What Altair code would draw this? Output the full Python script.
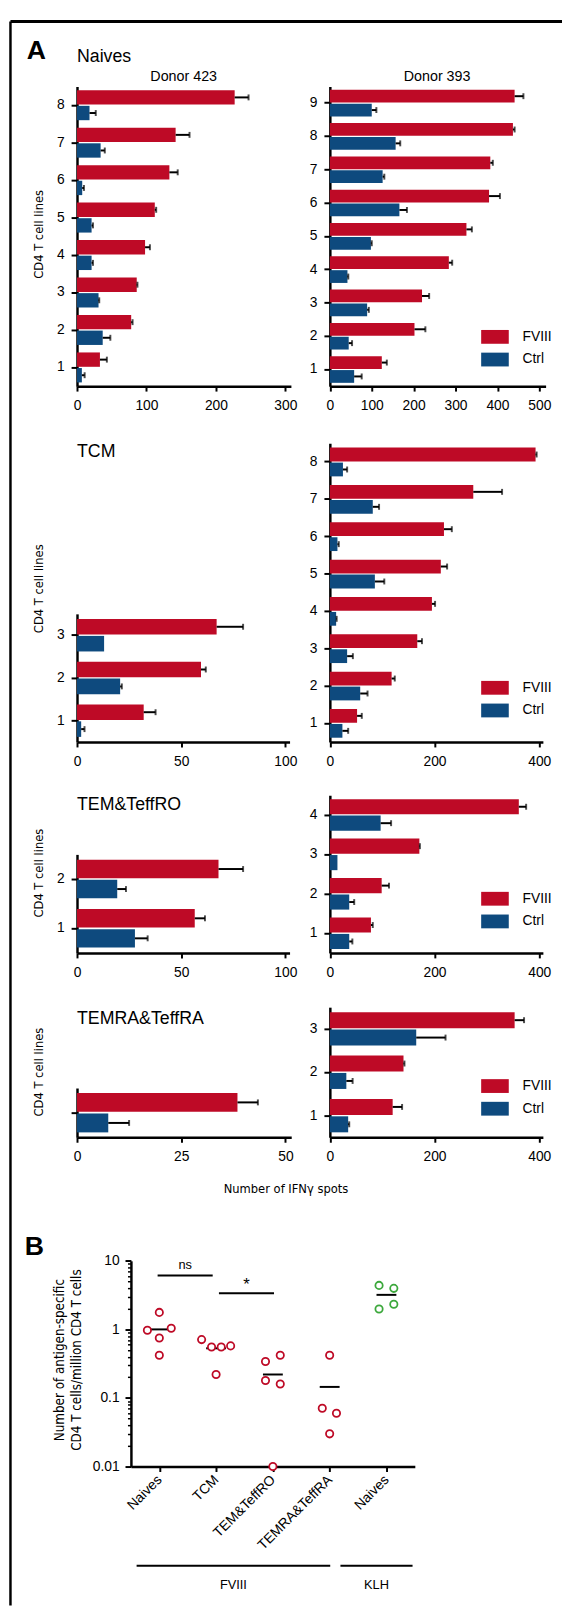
import altair as alt
import pandas as pd

W, H = 554, 1601
RED, BLUE, GREEN = "#BE0A26", "#0E4A7E", "#3CA83C"
FONT = "Liberation Sans"
NARROW = "DejaVu Sans Condensed, Roboto, sans-serif"
SERIES = ["FVIII", "Ctrl"]

# ---------------- Panel A data (number of IFN-gamma spots) ----------------
naive423_lines = ["1", "2", "3", "4", "5", "6", "7", "8"]
naive423_fviii = [33, 78, 86, 98, 112, 133, 142, 227]
naive423_fviii_err = [10, 2, 1, 7, 2, 12, 20, 20]
naive423_ctrl = [7, 37, 31, 21, 21, 7.5, 34, 18]
naive423_ctrl_err = [4, 11, 1, 2, 2, 2.5, 6, 9]

naive393_lines = ["1", "2", "3", "4", "5", "6", "7", "8", "9"]
naive393_fviii = [124, 202, 220, 284, 326, 380, 383, 437, 441]
naive393_fviii_err = [12, 26, 17, 8, 13, 26, 6, 4, 21]
naive393_ctrl = [58, 45, 89, 42, 98, 166, 126, 157, 100]
naive393_ctrl_err = [18, 8, 4, 2, 2, 18, 4, 11, 11]

tcm423_lines = ["1", "2", "3"]
tcm423_fviii = [32, 59.5, 67]
tcm423_fviii_err = [5.7, 2.3, 12.7]
tcm423_ctrl = [2, 20.7, 13]
tcm423_ctrl_err = [1.6, 0.8, 0]

tcm393_lines = ["1", "2", "3", "4", "5", "6", "7", "8"]
tcm393_fviii = [52, 118, 167, 195, 212, 218, 274, 393]
tcm393_fviii_err = [9, 6, 9, 6, 12, 15, 55, 2]
tcm393_ctrl = [24, 58, 33, 12, 86, 14.5, 82, 25]
tcm393_ctrl_err = [11, 14, 11, 1, 18, 2.5, 12, 8]

tem423_lines = ["1", "2"]
tem423_fviii = [56.5, 67.9]
tem423_fviii_err = [4.9, 11.8]
tem423_ctrl = [27.8, 19.3]
tem423_ctrl_err = [6.1, 4.2]

tem393_lines = ["1", "2", "3", "4"]
tem393_fviii = [78.5, 99, 171, 361]
tem393_fviii_err = [3.5, 14, 1, 14]
tem393_ctrl = [37, 37, 14.5, 97]
tem393_ctrl_err = [6, 9.5, 0, 20]

temra423_lines = ["1"]
temra423_fviii = [38.5]
temra423_fviii_err = [4.9]
temra423_ctrl = [7.5]
temra423_ctrl_err = [5]

temra393_lines = ["1", "2", "3"]
temra393_fviii = [120, 140.7, 353]
temra393_fviii_err = [18, 1.8, 18]
temra393_ctrl = [35, 31.5, 165]
temra393_ctrl_err = [2, 12, 56]

# ---------------- Panel B data ----------------
b_groups = ["Naives", "TCM", "TEM&TeffRO", "TEMRA&TeffRA", "Naives"]
b_stim = ["FVIII", "FVIII", "FVIII", "FVIII", "KLH"]
b_values = [
    [0.97, 1.77, 1.04, 0.75, 0.42],
    [0.71, 0.555, 0.555, 0.575, 0.22],
    [0.34, 0.42, 0.18, 0.16, 0.01],
    [0.42, 0.071, 0.06, 0.03],
    [4.38, 3.97, 1.98, 2.33],
]
b_jitter = [
    [-0.21, 0.0, 0.21, 0.0, 0.0],
    [-0.255, -0.08, 0.09, 0.256, 0.0],
    [-0.13, 0.13, -0.13, 0.13, 0.0],
    [0.0, -0.13, 0.12, 0.0],
    [-0.13, 0.13, -0.13, 0.13],
]
b_median = [1.0, 0.53, 0.22, 0.145, 3.19]
sig_labels = ["ns", "*"]
sig_x0 = [-0.03, 1.05]
sig_x1 = [0.94, 2.02]
sig_y = [6.1, 3.36]
grp_names = ["FVIII", "KLH"]
grp_x0 = [-0.4, 3.19]
grp_x1 = [3.01, 4.46]


def axis_x(values, ypos):
    return alt.Axis(orient="bottom", offset=ypos - H, values=values, title=None, grid=False,
                    domainColor="black", domainWidth=2.5, tickColor="black", tickWidth=2,
                    tickSize=5, labelFont=FONT, labelFontSize=14, labelColor="black",
                    labelPadding=8, labelFlush=False, labelOverlap=False)


def axis_y(xpos, labels=True):
    return alt.Axis(orient="left", offset=-xpos, title=None, grid=False, domainColor="black",
                    domainWidth=2.5, tickColor="black", tickWidth=2, tickSize=6,
                    labels=labels, labelFont=FONT, labelFontSize=14, labelColor="black",
                    labelPadding=7, labelAngle=0)


def legend_at(lx, ly):
    return alt.Legend(orient="none", legendX=lx, legendY=ly, title=None,
                      symbolType="M-2,-1H2V1H-2Z", symbolSize=196, symbolStrokeWidth=0,
                      symbolOffset=7, labelOffset=21, labelFont=FONT, labelFontSize=14,
                      labelColor="black", rowPadding=9, padding=0, symbolOpacity=1)


def bar_panel(lines, fv, fv_err, ct, ct_err, xmax, xrange, xticks, yrange, ax_y, ax_x,
              pad, legend=None, ylabels=True):
    rows = []
    for i, ln in enumerate(lines):
        rows.append(dict(line=ln, series="FVIII", val=fv[i], err=fv_err[i]))
        rows.append(dict(line=ln, series="Ctrl", val=ct[i], err=ct_err[i]))
    df = pd.DataFrame(rows)
    df["hi"] = df["val"] + df["err"]
    xs = alt.Scale(domain=[0, xmax], range=xrange, nice=False, zero=True)
    ys = alt.Scale(domain=lines, range=yrange, paddingInner=pad, paddingOuter=pad / 2)
    xa = axis_x(xticks, ax_x)
    y = alt.Y("line:N", scale=ys, axis=axis_y(ax_y, ylabels))
    yo = alt.YOffset("series:N", scale=alt.Scale(domain=SERIES, paddingInner=0.08))
    color = alt.Color("series:N", scale=alt.Scale(domain=SERIES, range=[RED, BLUE]),
                      legend=legend)
    base = alt.Chart(df)
    bars = base.mark_bar().encode(x=alt.X("val:Q", scale=xs, axis=xa), y=y, yOffset=yo,
                                  color=color)
    errs = base.transform_filter("datum.err > 0")
    rules = errs.mark_rule(color="black", strokeWidth=2).encode(
        x=alt.X("val:Q", scale=xs, axis=xa), x2="hi:Q", y=y, yOffset=yo)
    caps = errs.mark_tick(color="black", thickness=2, size=6).encode(
        x=alt.X("hi:Q", scale=xs, axis=xa), y=y, yOffset=yo)
    return alt.layer(bars, rules, caps)


one = pd.DataFrame({"k": [0]})


def label(text, x, y, size=14, font=FONT, weight="normal", align="left", angle=0,
          baseline="alphabetic", line_height=None):
    kw = dict(fontSize=size, font=font, fontWeight=weight, align=align, baseline=baseline,
              color="black")
    if angle:
        kw["angle"] = angle
    if line_height:
        kw["lineHeight"] = line_height
    return alt.Chart(pd.DataFrame({"t": [text]})).mark_text(**kw).encode(
        x=alt.value(x), y=alt.value(y), text="t")


L_X, R_X = 70, 326.5
p1 = bar_panel(naive423_lines, naive423_fviii, naive423_fviii_err, naive423_ctrl,
               naive423_ctrl_err, 308, [L_X, 287], [0, 100, 200, 300], [372, 68], L_X, 372, 0.2)
p2 = bar_panel(naive393_lines, naive393_fviii, naive393_fviii_err, naive393_ctrl,
               naive393_ctrl_err, 515, [R_X, R_X + 515 * 0.425], [0, 100, 200, 300, 400, 500],
               [372, 68], R_X, 372, 0.2, legend=legend_at(480, 315))
p3 = bar_panel(tcm423_lines, tcm423_fviii, tcm423_fviii_err, tcm423_ctrl, tcm423_ctrl_err,
               102, [L_X, L_X + 102 * 2.114], [0, 50, 100], [733, 603], L_X, 733, 0.24)
p4 = bar_panel(tcm393_lines, tcm393_fviii, tcm393_fviii_err, tcm393_ctrl, tcm393_ctrl_err,
               407, [R_X, R_X + 407 * 0.531], [0, 200, 400], [733, 430], R_X, 733, 0.23,
               legend=legend_at(480, 671))
p5 = bar_panel(tem423_lines, tem423_fviii, tem423_fviii_err, tem423_ctrl, tem423_ctrl_err,
               102, [L_X, L_X + 102 * 2.114], [0, 50, 100], [947, 847], L_X, 947, 0.22)
p6 = bar_panel(tem393_lines, tem393_fviii, tem393_fviii_err, tem393_ctrl, tem393_ctrl_err,
               407, [R_X, R_X + 407 * 0.531], [0, 200, 400], [947, 787], R_X, 947, 0.2,
               legend=legend_at(480, 885))
p7 = bar_panel(temra423_lines, temra423_fviii, temra423_fviii_err, temra423_ctrl,
               temra423_ctrl_err, 51.4, [L_X, L_X + 51.4 * 4.228], [0, 25, 50], [1134, 1084],
               L_X, 1134, 0.2, ylabels=False)
p8 = bar_panel(temra393_lines, temra393_fviii, temra393_fviii_err, temra393_ctrl,
               temra393_ctrl_err, 407, [R_X, R_X + 407 * 0.531], [0, 200, 400], [1134, 1002],
               R_X, 1134, 0.23, legend=legend_at(480, 1075))

# ---------------- Panel B ----------------
pts = []
for gi, vals in enumerate(b_values):
    for j, v in enumerate(vals):
        pts.append(dict(idx=gi, xpos=gi + b_jitter[gi][j], value=v, stim=b_stim[gi]))
pts = pd.DataFrame(pts)
med = pd.DataFrame({"idx": list(range(len(b_groups))), "median": b_median})
sig = pd.DataFrame({"lab": sig_labels, "x0": sig_x0, "x1": sig_x1, "y": sig_y})
grp = pd.DataFrame({"name": grp_names, "x0": grp_x0, "x1": grp_x1})

BX0, BX1 = 124.7, 412.7
BY0, BY1 = 1468, 1259.3
bxs = alt.Scale(domain=[-0.5, 4.5], range=[BX0, BX1], nice=False, zero=False)
bys = alt.Scale(type="log", domain=[0.01, 10], range=[BY0, BY1], nice=False)
label_expr = "[" + ",".join("'" + g + "'" for g in b_groups) + "][datum.value]"
bxa = alt.Axis(orient="bottom", offset=BY0 - H, values=list(range(len(b_groups))),
               labelExpr=label_expr, title=None, grid=False, domainColor="black",
               domainWidth=2.5, tickColor="black", tickWidth=2, tickSize=5, labelFont=FONT,
               labelFontSize=14, labelColor="black", labelAngle=-45, labelAlign="right",
               labelBaseline="middle", labelPadding=6, labelFlush=False, labelOverlap=False)
bya = alt.Axis(orient="left", offset=-BX0, values=[0.01, 0.1, 1, 10], format="~g", title=None,
               grid=False, domainColor="black", domainWidth=2.5, tickColor="black",
               tickWidth=2, tickSize=6, labelFont=FONT, labelFontSize=14, labelColor="black",
               labelPadding=6, labelOverlap=False)

b_med = alt.Chart(med).transform_calculate(lo="datum.idx - 0.175", hi="datum.idx + 0.175") \
    .mark_rule(color="black", strokeWidth=2).encode(
        x=alt.X("lo:Q", scale=bxs, axis=bxa), x2="hi:Q",
        y=alt.Y("median:Q", scale=bys, axis=bya))
b_pts = alt.Chart(pts).mark_point(shape="circle", filled=False, fill="white", fillOpacity=1,
                                  size=55, strokeWidth=1.8, opacity=1).encode(
    x=alt.X("xpos:Q", scale=bxs, axis=bxa),
    y=alt.Y("value:Q", scale=bys, axis=bya),
    color=alt.Color("stim:N", scale=alt.Scale(domain=["FVIII", "KLH"], range=[RED, GREEN]),
                    legend=None))
b_sig = alt.Chart(sig).mark_rule(color="black", strokeWidth=2).encode(
    x=alt.X("x0:Q", scale=bxs, axis=bxa), x2="x1:Q", y=alt.Y("y:Q", scale=bys, axis=bya))
sig_text = alt.Chart(sig).transform_calculate(xm="(datum.x0 + datum.x1) / 2")
b_sig_ns = sig_text.transform_filter("datum.lab != '*'").mark_text(
    font=FONT, fontSize=13, color="black", baseline="middle", dy=-11).encode(
    x=alt.X("xm:Q", scale=bxs, axis=bxa), y=alt.Y("y:Q", scale=bys, axis=bya), text="lab:N")
b_sig_star = sig_text.transform_filter("datum.lab == '*'").mark_text(
    font=FONT, fontSize=17, color="black", baseline="middle", dy=-8).encode(
    x=alt.X("xm:Q", scale=bxs, axis=bxa), y=alt.Y("y:Q", scale=bys, axis=bya), text="lab:N")
b_grp = alt.Chart(grp).mark_rule(color="black", strokeWidth=2).encode(
    x=alt.X("x0:Q", scale=bxs, axis=bxa), x2="x1:Q", y=alt.value(1568.7))
b_grpt = alt.Chart(grp).transform_calculate(xm="(datum.x0 + datum.x1) / 2").mark_text(
    font=FONT, fontSize=13, color="black", baseline="middle").encode(
    x=alt.X("xm:Q", scale=bxs, axis=bxa), y=alt.value(1588), text="name:N")
panel_b = alt.layer(b_med, b_pts, b_sig, b_sig_ns, b_sig_star, b_grp, b_grpt)

minor_vals = [m * d for d in (0.01, 0.1, 1) for m in range(2, 10)]
b_minor = alt.Chart(pts).mark_point(opacity=0).encode(
    y=alt.Y("value:Q", scale=alt.Scale(type="log", domain=[0.01, 10], range=[BY0, BY1],
                                       nice=False),
            axis=alt.Axis(orient="left", offset=-BX0, values=minor_vals, labels=False,
                          domain=False, tickSize=3.5, tickWidth=1.5, tickColor="black",
                          grid=False, title=None)))

# ---------------- frame and texts ----------------
frame_top = alt.Chart(one).mark_rule(color="black", strokeWidth=3).encode(
    x=alt.value(2.5), x2=alt.value(562), y=alt.value(2))
frame_left = alt.Chart(one).mark_rule(color="black", strokeWidth=2.5).encode(
    x=alt.value(2.5), y=alt.value(2), y2=alt.value(1609))

texts = [
    label("A", 19, 40.3, size=27, weight="bold"),
    label("Naives", 70, 42.7, size=18),
    label("Donor 423", 178.2, 62.7, size=14.5, align="center"),
    label("Donor 393", 435.3, 62.7, size=14.5, align="center"),
    label("TCM", 70, 443.7, size=18),
    label("TEM&TeffRO", 70, 802, size=18),
    label("TEMRA&TeffRA", 70, 1019.3, size=18),
    label("Number of IFNγ spots", 282, 1190.3, size=13, font=NARROW, align="center"),
    label("B", 17, 1253.7, size=27, weight="bold"),
    label(["Number of antigen-specific", "CD4 T cells/million CD4 T cells"], 57, 1360,
          size=13.5, font=NARROW, align="center", angle=270, line_height=17.5),
]
for yc in [218, 577.5, 866, 1067.8]:
    texts.append(label("CD4 T cell lines", 36, yc, size=13, font=NARROW, align="center",
                       angle=270))

chart = alt.layer(
    frame_top, frame_left, *texts, p1, p2, p3, p4, p5, p6, p7, p8, panel_b, b_minor
).resolve_scale(
    x="independent", y="independent", color="independent", yOffset="independent"
).properties(
    width=W, height=H, autosize=alt.AutoSizeParams(type="none"),
    padding={"left": 0, "top": 0, "right": 8, "bottom": 8}
).configure_view(stroke=None)

chart.save("out.html", embed_options={"renderer": "svg", "actions": False})
